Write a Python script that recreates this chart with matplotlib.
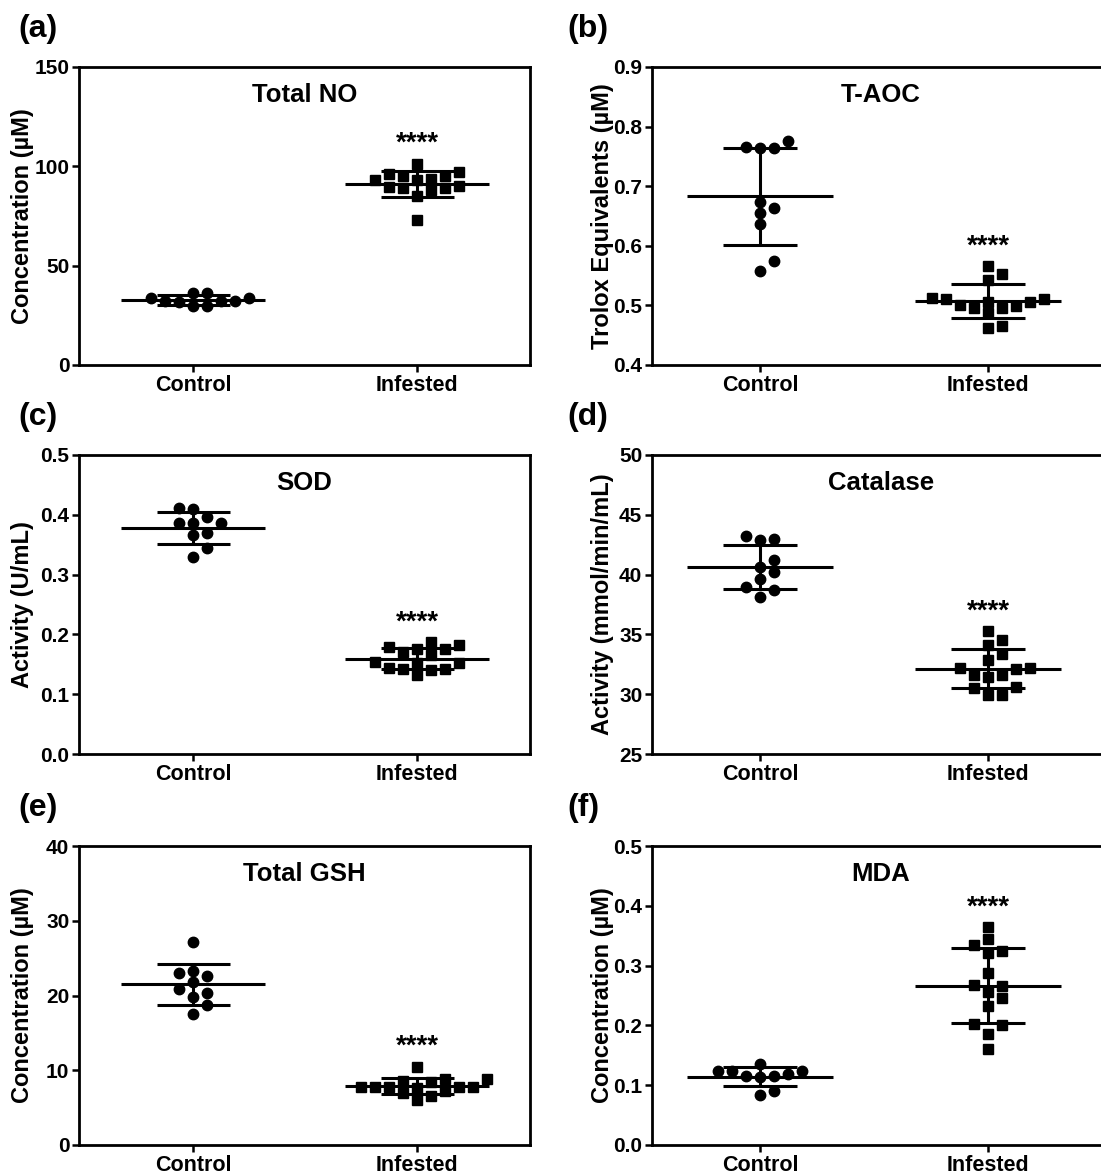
import numpy as np
import matplotlib
matplotlib.use('Agg')
import matplotlib.pyplot as plt

plt.rcParams['font.family'] = ['Liberation Sans', 'DejaVu Sans']
plt.rcParams['font.weight'] = 'bold'

groups = ['Control', 'Infested']

# values
no_control = [36.0, 33.5, 32.2, 31.6, 29.5, 29.5, 32.4, 32.4, 33.6, 36.4]
no_infested = [97.2, 90.0, 95.0, 89.3, 93.8, 88.0, 101.4, 93.0, 72.9, 85.1,
               93.3, 89.3, 95.0, 89.7, 96.0]

taoc_control = [0.775, 0.764, 0.764, 0.765, 0.663, 0.655, 0.674, 0.636, 0.574, 0.558]
taoc_infested = [0.512, 0.510, 0.506, 0.499, 0.543, 0.495, 0.462, 0.566, 0.553,
                 0.510, 0.466, 0.487, 0.496, 0.501, 0.506]

sod_control = [0.387, 0.411, 0.370, 0.397, 0.366, 0.329, 0.344, 0.386, 0.409, 0.387]
sod_infested = [0.153, 0.182, 0.144, 0.175, 0.142, 0.170, 0.132, 0.165, 0.141,
                0.176, 0.142, 0.179, 0.153, 0.187, 0.154]

cat_control = [42.95, 42.9, 43.2, 41.2, 40.2, 40.6, 39.6, 39.0, 38.7, 38.1]
cat_infested = [35.28, 34.53, 34.1, 33.4, 32.85, 32.16, 32.08, 32.16, 31.6, 31.4,
                31.6, 30.48, 30.6, 29.9, 29.96]

gsh_control = [27.2, 23.05, 22.6, 23.3, 21.8, 20.9, 20.3, 19.84, 18.7, 17.5]
gsh_infested = [7.8, 7.7, 7.6, 8.8, 6.9, 8.5, 6.0, 10.5, 8.4, 6.5, 7.2, 8.8,
                7.7, 7.7, 7.8]

mda_control = [0.135, 0.123, 0.119, 0.115, 0.091, 0.084, 0.113, 0.115, 0.123, 0.124]
mda_infested = [0.365, 0.344, 0.334, 0.321, 0.325, 0.287, 0.267, 0.266, 0.256,
                0.246, 0.233, 0.200, 0.203, 0.186, 0.161]

titles = ['Total NO', 'T-AOC', 'SOD', 'Catalase', 'Total GSH', 'MDA']
ylabels = ['Concentration (\u00b5M)', 'Trolox Equivalents (\u00b5M)', 'Activity (U/mL)',
           'Activity (mmol/min/mL)', 'Concentration (\u00b5M)', 'Concentration (\u00b5M)']
letters = ['(a)', '(b)', '(c)', '(d)', '(e)', '(f)']
yticks = [[0, 50, 100, 150], [0.4, 0.5, 0.6, 0.7, 0.8, 0.9],
          [0.0, 0.1, 0.2, 0.3, 0.4, 0.5], [25, 30, 35, 40, 45, 50],
          [0, 10, 20, 30, 40], [0.0, 0.1, 0.2, 0.3, 0.4, 0.5]]
tickfmt = ['%d', '%.1f', '%.1f', '%d', '%d', '%.1f']
data = [(no_control, no_infested), (taoc_control, taoc_infested),
        (sod_control, sod_infested), (cat_control, cat_infested),
        (gsh_control, gsh_infested), (mda_control, mda_infested)]

W, H = 1101, 1176
fig = plt.figure(figsize=(W / 100, H / 100), dpi=100)

# axes boxes in pixels: left, right, xlim ; rows: top, bottom
cols = [(79, 530, (-0.509, 1.504)), (652, 1110, (-0.474, 1.535))]
rows = [(67, 365), (455, 754), (846, 1145)]


def swarm(ax, vals, center):
    # graphpad-like scatter: lowest values first, spread sideways on overlap
    vals = np.asarray(vals, float)
    p0 = ax.transData.transform((0, 0))
    p1 = ax.transData.transform((1, 1))
    sx, sy = p1[0] - p0[0], p1[1] - p0[1]
    step = 7.0
    placed = []
    xs = np.zeros(len(vals))
    order = np.argsort(vals, kind='stable')
    seq = [0] + [s * k for k in range(1, 40) for s in (1, -1)]
    for i in order:
        ypx = vals[i] * sy
        for k in seq:
            xpx = k * step
            if all(abs(xpx - px) >= 2 * step - 0.1 or abs(ypx - py) >= 11
                   for px, py in placed):
                break
        placed.append((xpx, ypx))
        xs[i] = center + xpx / sx
    return xs


for i in range(6):
    (l, r, xl), (t, b) = cols[i % 2], rows[i // 2]
    ax = fig.add_axes([l / W, 1 - b / H, (r - l) / W, (b - t) / H])
    ax.set_xlim(*xl)
    yt = yticks[i]
    ax.set_ylim(yt[0], yt[-1])
    ax.set_yticks(yt)
    ax.set_yticklabels([tickfmt[i] % v for v in yt], fontsize=15, fontweight='bold')
    ax.set_xticks([0, 1])
    ax.set_xticklabels(groups, fontsize=15.5, fontweight='bold')
    ax.tick_params(direction='out', length=5, width=1.8, pad=2)
    for sp in ax.spines.values():
        sp.set_linewidth(2.0)
    ctrl, inf = data[i]
    for g, vals in enumerate([ctrl, inf]):
        xs = swarm(ax, vals, g)
        ax.plot(xs, vals, ls='none', marker='o' if g == 0 else 's',
                ms=7.5 if g == 0 else 7, color='k', zorder=3)
        m = np.mean(vals)
        sd = np.std(vals, ddof=1)
        ax.hlines(m, g - 0.32, g + 0.32, color='k', lw=2.2, zorder=4)
        ax.hlines([m - sd, m + sd], g - 0.163, g + 0.163, color='k', lw=2.2, zorder=4)
        ax.vlines(g, m - sd, m + sd, color='k', lw=2.2, zorder=4)
    rng = yt[-1] - yt[0]
    ax.text(1, max(inf) + 0.042 * rng, '****', ha='center', va='baseline',
            fontsize=20, fontweight='bold')
    ax.text(0.5, 0.906, titles[i], transform=ax.transAxes, ha='center',
            va='center', fontsize=18.5, fontweight='bold')
    ax.set_ylabel(ylabels[i], fontsize=17, fontweight='bold')
    ax.yaxis.set_label_coords(-(45 if i % 2 == 0 else 38) / (r - l), 0.5)
    fig.text((18 if i % 2 == 0 else 567) / W, 1 - (t - 38) / H, letters[i],
             ha='left', va='center', fontsize=23, fontweight='bold')

fig.savefig('out.png', dpi=100)
